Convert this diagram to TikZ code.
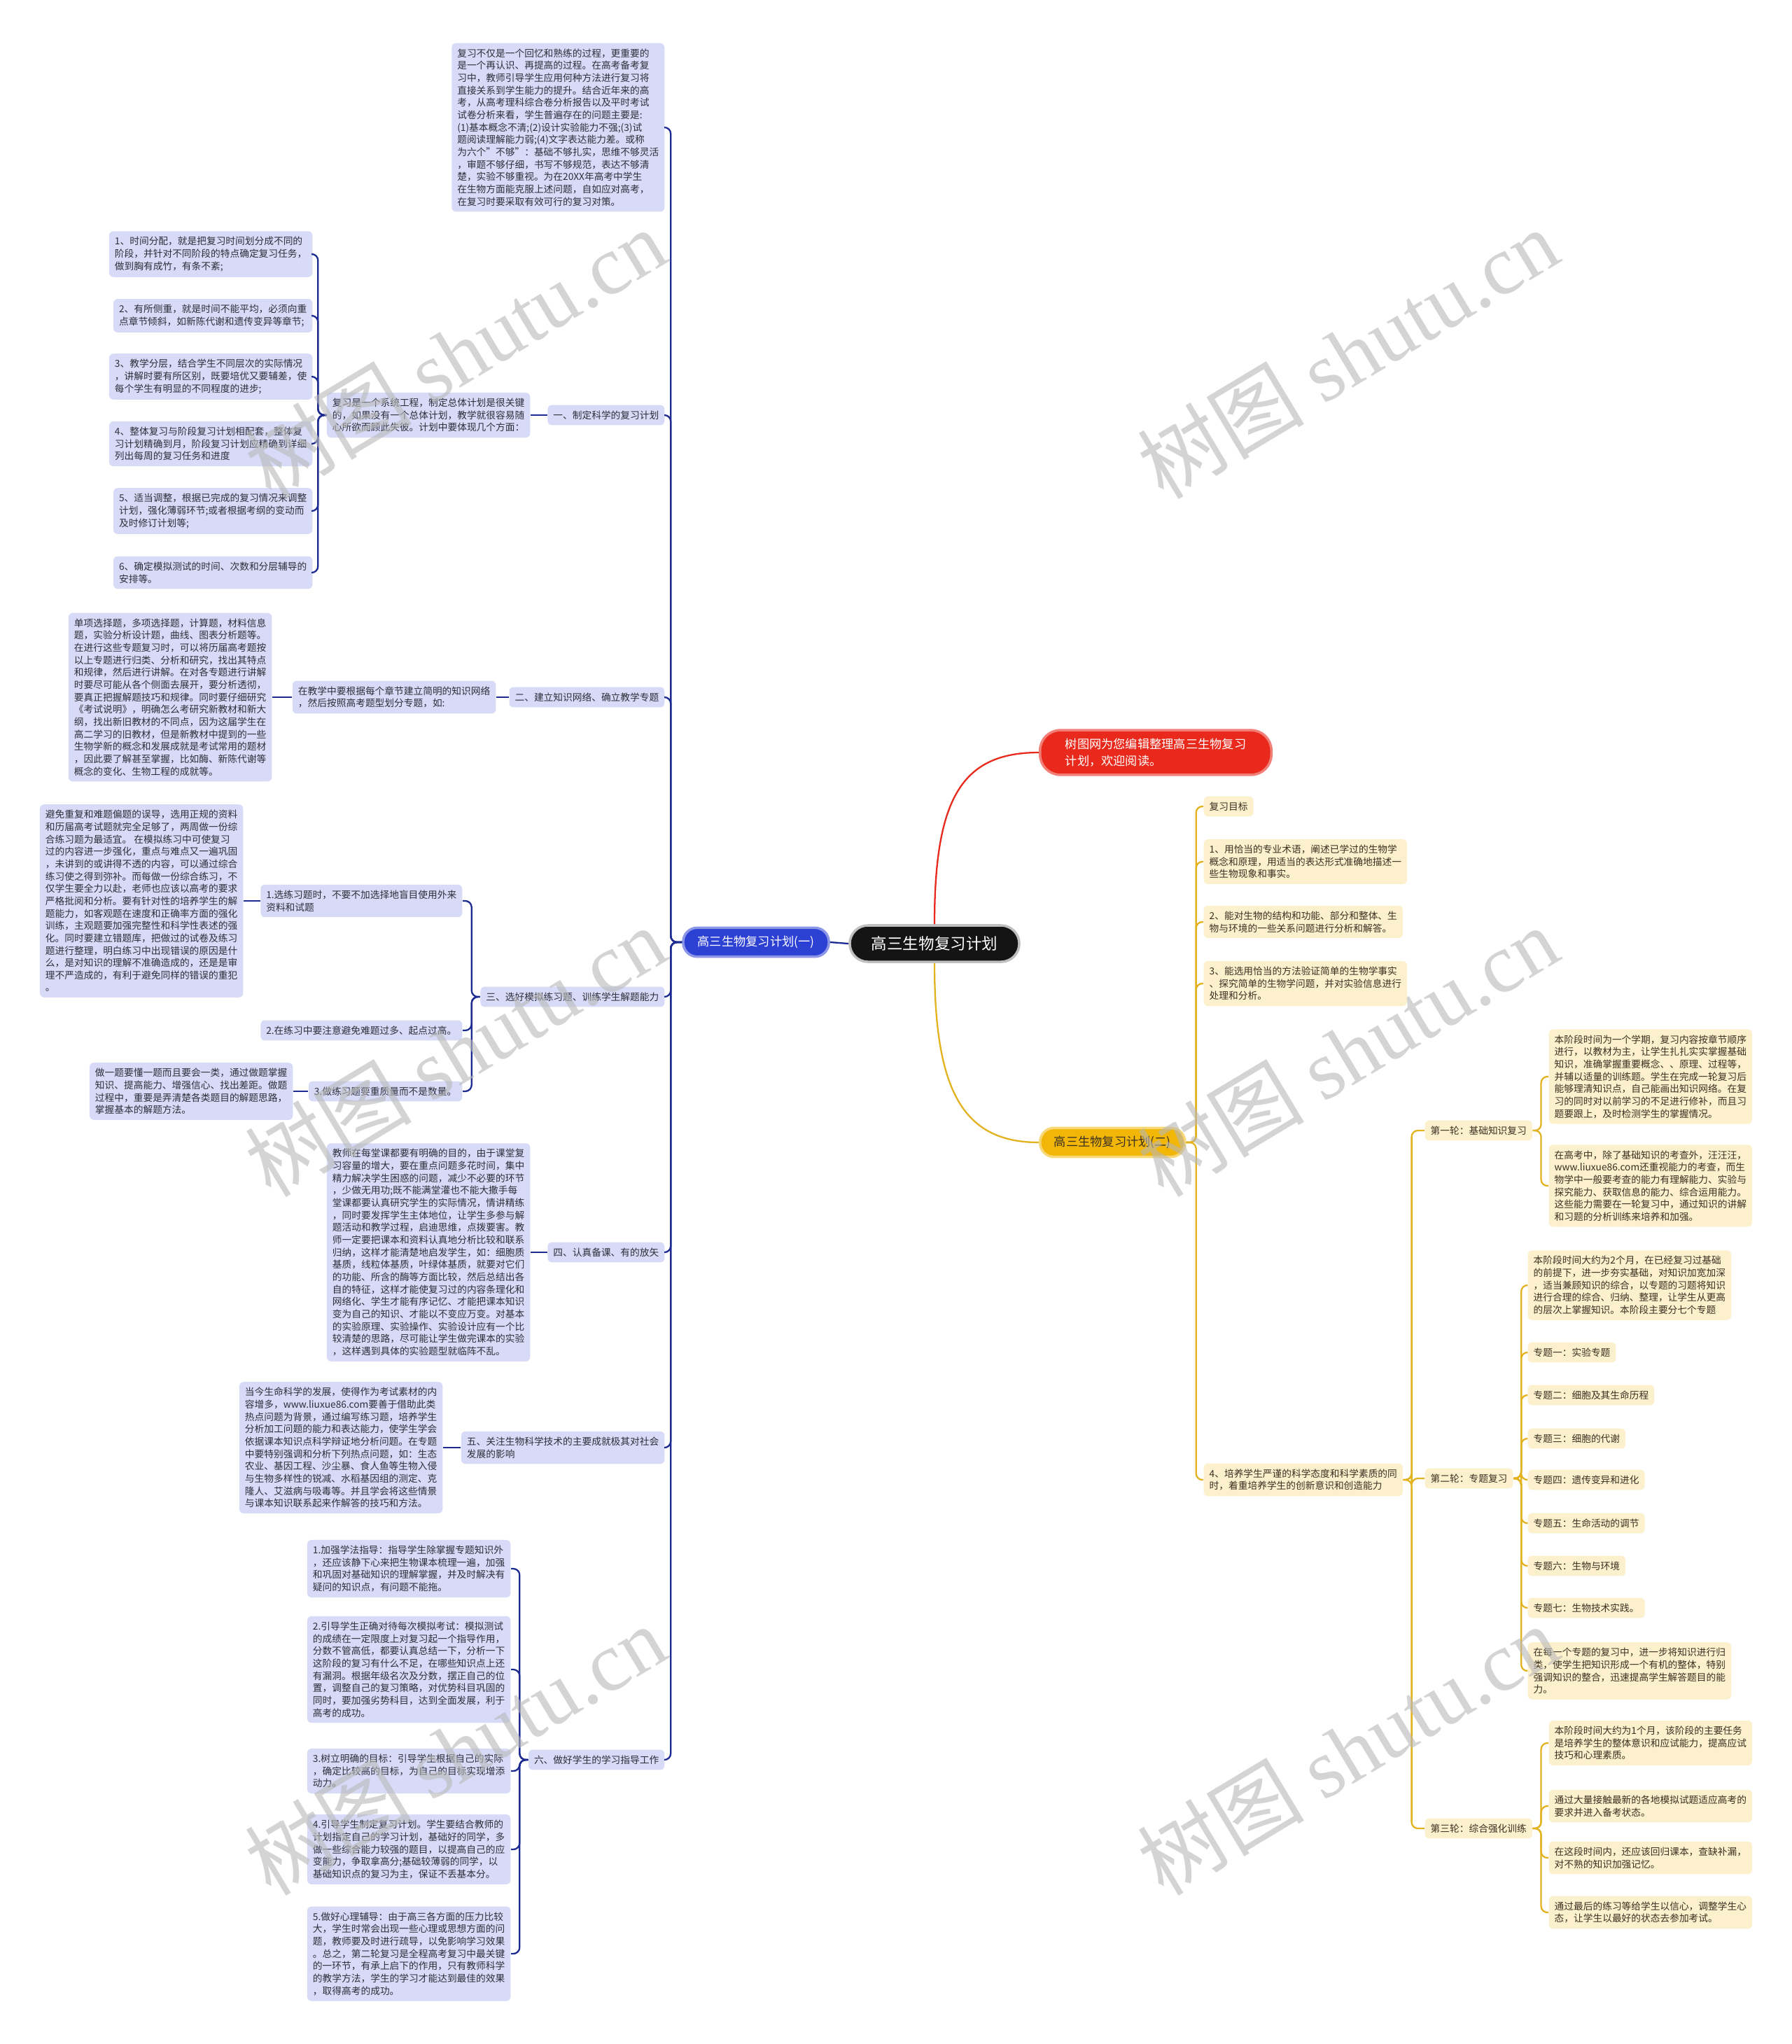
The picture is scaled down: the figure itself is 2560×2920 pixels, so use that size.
\documentclass[tikz,border=0pt]{standalone}
\usepackage{fontspec}
\setmainfont{Noto Sans CJK SC}
\newfontfamily\wmfont{Liberation Serif}

\definecolor{bfill}{HTML}{D7DBF7}
\definecolor{bink}{HTML}{2E2E3A}
\definecolor{bedge}{HTML}{1C2B91}
\definecolor{bmain}{HTML}{2C40D4}
\definecolor{yfill}{HTML}{FCF0CD}
\definecolor{yink}{HTML}{3A3122}
\definecolor{yedge}{HTML}{E3B21F}
\definecolor{ymain}{HTML}{F2B606}
\definecolor{introred}{HTML}{E8291C}
\definecolor{wmgray}{HTML}{B8B8B8}

\newcommand{\leaffont}{\fontsize{3.9pt}{5.02pt}\selectfont}
\newcommand{\midfont}{\fontsize{4.9pt}{6.8pt}\selectfont}
\newcommand{\rootfont}{\fontsize{6.4pt}{7.5pt}\selectfont}
\newcommand{\wmsize}{\fontsize{34pt}{36pt}\selectfont}

\begin{document}
\begin{tikzpicture}[x=0.01cm, y=-0.01cm,
    bbox/.style={fill=bfill, text=bink, rounded corners=0.06cm, inner xsep=0.08cm, inner ysep=0.08cm, align=left, font=\leaffont},
    ybox/.style={bbox, fill=yfill, text=yink},
    bline/.style={draw=bedge, line width=0.65pt, rounded corners=0.09cm},
    yline/.style={draw=yedge, line width=0.65pt, rounded corners=0.09cm},
    wmark/.style={text=wmgray, opacity=0.6, rotate=31, font=\wmsize}]

    % page
    \fill[white] (0,0) rectangle (2560,2920);
    \useasboundingbox (0,0) rectangle (2560,2920);

    % root and main branches
    \node[fill=black!92, text=white, draw=gray!50, line width=1pt, rounded corners=0.26cm, minimum width=2.42cm, minimum height=0.52cm, font=\rootfont] (root) at (1335,1348) {高三生物复习计划};
    \node[fill=bmain, text=white, draw=bmain!55, line width=1pt, rounded corners=0.2cm, minimum width=2.08cm, minimum height=0.41cm, font=\midfont] (partOne) at (1080,1346) {高三生物复习计划(一)};
    \node[fill=introred, text=white, draw=introred!60, line width=1pt, rounded corners=0.29cm, minimum height=0.59cm, inner xsep=0.36cm, align=left, font=\midfont, anchor=west] (intro) at (1484,1075) {树图网为您编辑整理高三生物复习\\计划，欢迎阅读。};
    \node[fill=ymain, text=yink, draw=ymain!55, line width=1pt, rounded corners=0.2cm, minimum width=2.07cm, minimum height=0.41cm, font=\midfont, anchor=west] (partTwo) at (1484,1632) {高三生物复习计划(二)};

    % left: intro text
    \node[bbox, anchor=east] (review) at (950,182) {复习不仅是一个回忆和熟练的过程，更重要的\\是一个再认识、再提高的过程。在高考备考复\\习中，教师引导学生应用何种方法进行复习将\\直接关系到学生能力的提升。结合近年来的高\\考，从高考理科综合卷分析报告以及平时考试\\试卷分析来看，学生普遍存在的问题主要是:\\(1)基本概念不清;(2)设计实验能力不强;(3)试\\题阅读理解能力弱;(4)文字表达能力差。或称\\为六个"不够"：基础不够扎实，思维不够灵活\\，审题不够仔细，书写不够规范，表达不够清\\楚，实验不够重视。为在20XX年高考中学生\\在生物方面能克服上述问题，自如应对高考，\\在复习时要采取有效可行的复习对策。};

    % left: section 1
    \node[bbox, anchor=east] (plan) at (950,593) {一、制定科学的复习计划};
    \node[bbox, anchor=east] (planIntro) at (758,593) {复习是一个系统工程，制定总体计划是很关键\\的，如果没有一个总体计划，教学就很容易随\\心所欲而顾此失彼。计划中要体现几个方面：};
    \node[bbox, anchor=east] (p1) at (447,363) {1、时间分配，就是把复习时间划分成不同的\\阶段，并针对不同阶段的特点确定复习任务，\\做到胸有成竹，有条不紊;};
    \node[bbox, anchor=east] (p2) at (447,451) {2、有所侧重，就是时间不能平均，必须向重\\点章节倾斜，如新陈代谢和遗传变异等章节;};
    \node[bbox, anchor=east] (p3) at (447,538) {3、教学分层，结合学生不同层次的实际情况\\，讲解时要有所区别，既要培优又要辅差，使\\每个学生有明显的不同程度的进步;};
    \node[bbox, anchor=east] (p4) at (447,634) {4、整体复习与阶段复习计划相配套，整体复\\习计划精确到月，阶段复习计划应精确到详细\\列出每周的复习任务和进度};
    \node[bbox, anchor=east] (p5) at (447,730) {5、适当调整，根据已完成的复习情况来调整\\计划，强化薄弱环节;或者根据考纲的变动而\\及时修订计划等;};
    \node[bbox, anchor=east] (p6) at (447,818) {6、确定模拟测试的时间、次数和分层辅导的\\安排等。};

    % left: section 2
    \node[bbox, anchor=east] (net) at (950,996) {二、建立知识网络、确立教学专题};
    \node[bbox, anchor=east] (netIntro) at (709,996) {在教学中要根据每个章节建立简明的知识网络\\，然后按照高考题型划分专题，如:};
    \node[bbox, anchor=east] (netTypes) at (389,996) {单项选择题，多项选择题，计算题，材料信息\\题，实验分析设计题，曲线、图表分析题等。\\在进行这些专题复习时，可以将历届高考题按\\以上专题进行归类、分析和研究，找出其特点\\和规律，然后进行讲解。在对各专题进行讲解\\时要尽可能从各个侧面去展开，要分析透彻，\\要真正把握解题技巧和规律。同时要仔细研究\\《考试说明》，明确怎么考研究新教材和新大\\纲，找出新旧教材的不同点，因为这届学生在\\高二学习的旧教材，但是新教材中提到的一些\\生物学新的概念和发展成就是考试常用的题材\\，因此要了解甚至掌握，比如酶、新陈代谢等\\概念的变化、生物工程的成就等。};

    % left: section 3
    \node[bbox, anchor=east] (drill) at (950,1424) {三、选好模拟练习题、训练学生解题能力};
    \node[bbox, anchor=east] (d1) at (661,1287) {1.选练习题时，不要不加选择地盲目使用外来\\资料和试题};
    \node[bbox, anchor=east] (d1x) at (348,1287) {避免重复和难题偏题的误导，选用正规的资料\\和历届高考试题就完全足够了，两周做一份综\\合练习题为最适宜。 在模拟练习中可使复习\\过的内容进一步强化，重点与难点又一遍巩固\\，未讲到的或讲得不透的内容，可以通过综合\\练习使之得到弥补。而每做一份综合练习，不\\仅学生要全力以赴，老师也应该以高考的要求\\严格批阅和分析。要有针对性的培养学生的解\\题能力，如客观题在速度和正确率方面的强化\\训练，主观题要加强完整性和科学性表述的强\\化。同时要建立错题库，把做过的试卷及练习\\题进行整理，明白练习中出现错误的原因是什\\么，是对知识的理解不准确造成的，还是是审\\理不严造成的，有利于避免同样的错误的重犯\\。};
    \node[bbox, anchor=east] (d2) at (661,1472) {2.在练习中要注意避免难题过多、起点过高。};
    \node[bbox, anchor=east] (d3) at (661,1559) {3.做练习题要重质量而不是数量。};
    \node[bbox, anchor=east] (d3x) at (419,1559) {做一题要懂一题而且要会一类，通过做题掌握\\知识、提高能力、增强信心、找出差距。做题\\过程中，重要是弄清楚各类题目的解题思路，\\掌握基本的解题方法。};

    % left: section 4
    \node[bbox, anchor=east] (prep) at (950,1789) {四、认真备课、有的放矢};
    \node[bbox, anchor=east] (prepText) at (758,1789) {教师在每堂课都要有明确的目的，由于课堂复\\习容量的增大，要在重点问题多花时间，集中\\精力解决学生困惑的问题，减少不必要的环节\\，少做无用功;既不能满堂灌也不能大撒手每\\堂课都要认真研究学生的实际情况，情讲精练\\，同时要发挥学生主体地位，让学生多参与解\\题活动和教学过程，启迪思维，点拨要害。教\\师一定要把课本和资料认真地分析比较和联系\\归纳，这样才能清楚地启发学生，如：细胞质\\基质，线粒体基质，叶绿体基质，就要对它们\\的功能、所含的酶等方面比较，然后总结出各\\自的特征，这样才能使复习过的内容条理化和\\网络化、学生才能有序记忆、才能把课本知识\\变为自己的知识、才能以不变应万变。对基本\\的实验原理、实验操作、实验设计应有一个比\\较清楚的思路，尽可能让学生做完课本的实验\\，这样遇到具体的实验题型就临阵不乱。};

    % left: section 5
    \node[bbox, anchor=east] (tech) at (950,2068) {五、关注生物科学技术的主要成就极其对社会\\发展的影响};
    \node[bbox, anchor=east] (techText) at (633,2068) {当今生命科学的发展，使得作为考试素材的内\\容增多，www.liuxue86.com要善于借助此类\\热点问题为背景，通过编写练习题，培养学生\\分析加工问题的能力和表达能力，使学生学会\\依据课本知识点科学辩证地分析问题。在专题\\中要特别强调和分析下列热点问题，如：生态\\农业、基因工程、沙尘暴、食人鱼等生物入侵\\与生物多样性的锐减、水稻基因组的测定、克\\隆人、艾滋病与吸毒等。并且学会将这些情景\\与课本知识联系起来作解答的技巧和方法。};

    % left: section 6
    \node[bbox, anchor=east] (guide) at (950,2514) {六、做好学生的学习指导工作};
    \node[bbox, anchor=east] (g1) at (730,2241) {1.加强学法指导：指导学生除掌握专题知识外\\，还应该静下心来把生物课本梳理一遍，加强\\和巩固对基础知识的理解掌握，并及时解决有\\疑问的知识点，有问题不能拖。};
    \node[bbox, anchor=east] (g2) at (730,2385) {2.引导学生正确对待每次模拟考试：模拟测试\\的成绩在一定限度上对复习起一个指导作用，\\分数不管高低，都要认真总结一下，分析一下\\这阶段的复习有什么不足，在哪些知识点上还\\有漏洞。根据年级名次及分数，摆正自己的位\\置，调整自己的复习策略，对优势科目巩固的\\同时，要加强劣势科目，达到全面发展，利于\\高考的成功。};
    \node[bbox, anchor=east] (g3) at (730,2530) {3.树立明确的目标：引导学生根据自己的实际\\，确定比较高的目标，为自己的目标实现增添\\动力。};
    \node[bbox, anchor=east] (g4) at (730,2642) {4.引导学生制定复习计划。学生要结合教师的\\计划指定自己的学习计划，基础好的同学，多\\做一些综合能力较强的题目，以提高自己的应\\变能力，争取拿高分;基础较薄弱的同学，以\\基础知识点的复习为主，保证不丢基本分。};
    \node[bbox, anchor=east] (g5) at (730,2791) {5.做好心理辅导：由于高三各方面的压力比较\\大，学生时常会出现一些心理或思想方面的问\\题，教师要及时进行疏导，以免影响学习效果\\。总之，第二轮复习是全程高考复习中最关键\\的一环节，有承上启下的作用，只有教师科学\\的教学方法，学生的学习才能达到最佳的效果\\，取得高考的成功。};

    % right: goals
    \node[ybox, anchor=west] (goal) at (1719,1152) {复习目标};
    \node[ybox, anchor=west] (aim1) at (1719,1231) {1、用恰当的专业术语，阐述已学过的生物学\\概念和原理，用适当的表达形式准确地描述一\\些生物现象和事实。};
    \node[ybox, anchor=west] (aim2) at (1719,1317) {2、能对生物的结构和功能、部分和整体、生\\物与环境的一些关系问题进行分析和解答。};
    \node[ybox, anchor=west] (aim3) at (1719,1405) {3、能选用恰当的方法验证简单的生物学事实\\、探究简单的生物学问题，并对实验信息进行\\处理和分析。};
    \node[ybox, anchor=west] (aim4) at (1719,2114) {4、培养学生严谨的科学态度和科学素质的同\\时，着重培养学生的创新意识和创造能力};

    % right: round 1
    \node[ybox, anchor=west] (roundA) at (2035,1615) {第一轮：基础知识复习};
    \node[ybox, anchor=west] (a1) at (2212,1538) {本阶段时间为一个学期，复习内容按章节顺序\\进行，以教材为主，让学生扎扎实实掌握基础\\知识，准确掌握重要概念、、原理、过程等，\\并辅以适量的训练题。学生在完成一轮复习后\\能够理清知识点，自己能画出知识网络。在复\\习的同时对以前学习的不足进行修补，而且习\\题要跟上，及时检测学生的掌握情况。};
    \node[ybox, anchor=west] (a2) at (2212,1694) {在高考中，除了基础知识的考查外，汪汪汪，\\www.liuxue86.com还重视能力的考查，而生\\物学中一般要考查的能力有理解能力、实验与\\探究能力、获取信息的能力、综合运用能力。\\这些能力需要在一轮复习中，通过知识的讲解\\和习题的分析训练来培养和加强。};

    % right: round 2
    \node[ybox, anchor=west] (roundB) at (2035,2112) {第二轮：专题复习};
    \node[ybox, anchor=west] (b0) at (2182,1836) {本阶段时间大约为2个月，在已经复习过基础\\的前提下，进一步夯实基础，对知识加宽加深\\，适当兼顾知识的综合，以专题的习题将知识\\进行合理的综合、归纳、整理，让学生从更高\\的层次上掌握知识。本阶段主要分七个专题};
    \node[ybox, anchor=west] (t1) at (2182,1932) {专题一：实验专题};
    \node[ybox, anchor=west] (t2) at (2182,1993) {专题二：细胞及其生命历程};
    \node[ybox, anchor=west] (t3) at (2182,2055) {专题三：细胞的代谢};
    \node[ybox, anchor=west] (t4) at (2182,2114) {专题四：遗传变异和进化};
    \node[ybox, anchor=west] (t5) at (2182,2176) {专题五：生命活动的调节};
    \node[ybox, anchor=west] (t6) at (2182,2237) {专题六：生物与环境};
    \node[ybox, anchor=west] (t7) at (2182,2297) {专题七：生物技术实践。};
    \node[ybox, anchor=west] (b8) at (2182,2387) {在每一个专题的复习中，进一步将知识进行归\\类，使学生把知识形成一个有机的整体，特别\\强调知识的整合，迅速提高学生解答题目的能\\力。};

    % right: round 3
    \node[ybox, anchor=west] (roundC) at (2035,2612) {第三轮：综合强化训练};
    \node[ybox, anchor=west] (c1) at (2212,2490) {本阶段时间大约为1个月，该阶段的主要任务\\是培养学生的整体意识和应试能力，提高应试\\技巧和心理素质。};
    \node[ybox, anchor=west] (c2) at (2212,2580) {通过大量接触最新的各地模拟试题适应高考的\\要求并进入备考状态。};
    \node[ybox, anchor=west] (c3) at (2212,2654) {在这段时间内，还应该回归课本，查缺补漏，\\对不熟的知识加强记忆。};
    \node[ybox, anchor=west] (c4) at (2212,2732) {通过最后的练习等给学生以信心，调整学生心\\态，让学生以最好的状态去参加考试。};

    % connectors: blue side
    \draw[bline] (root.west) -- (partOne.east);
    \foreach \n in {review,plan,net,drill,prep,tech,guide}
        \draw[bline] (partOne.west) -- ++(-16,0) |- (\n.east);
    \draw[bline] (plan.west) -- (planIntro.east);
    \foreach \n in {p1,p2,p3,p4,p5,p6}
        \draw[bline] (planIntro.west) -- ++(-12,0) |- (\n.east);
    \draw[bline] (net.west) -- (netIntro.east);
    \draw[bline] (netIntro.west) -- (netTypes.east);
    \foreach \n in {d1,d2,d3}
        \draw[bline] (drill.west) -- ++(-12,0) |- (\n.east);
    \draw[bline] (d1.west) -- (d1x.east);
    \draw[bline] (d3.west) -- (d3x.east);
    \draw[bline] (prep.west) -- (prepText.east);
    \draw[bline] (tech.west) -- (techText.east);
    \foreach \n in {g1,g2,g3,g4,g5}
        \draw[bline] (guide.west) -- ++(-12,0) |- (\n.east);

    % connectors: red and yellow side
    \draw[draw=introred, line width=0.65pt] (root.north) .. controls +(0,-180) and +(-110,0) .. (intro.west);
    \draw[yline] (root.south) .. controls +(0,180) and +(-110,0) .. (partTwo.west);
    \foreach \n in {goal,aim1,aim2,aim3,aim4}
        \draw[yline] (partTwo.east) -- ++(14,0) |- (\n.west);
    \foreach \n in {roundA,roundB,roundC}
        \draw[yline] (aim4.east) -- ++(12,0) |- (\n.west);
    \foreach \n in {a1,a2}
        \draw[yline] (roundA.east) -- ++(12,0) |- (\n.west);
    \foreach \n in {b0,t1,t2,t3,t4,t5,t6,t7,b8}
        \draw[yline] (roundB.east) -- ++(11,0) |- (\n.west);
    \foreach \n in {c1,c2,c3,c4}
        \draw[yline] (roundC.east) -- ++(12,0) |- (\n.west);

    % watermarks
    \node[wmark] (wm1) at (650,505) {树图 {\wmfont shutu.cn}};
    \node[wmark] (wm2) at (1925,505) {树图 {\wmfont shutu.cn}};
    \node[wmark] (wm3) at (650,1502) {树图 {\wmfont shutu.cn}};
    \node[wmark] (wm4) at (1925,1502) {树图 {\wmfont shutu.cn}};
    \node[wmark] (wm5) at (650,2500) {树图 {\wmfont shutu.cn}};
    \node[wmark] (wm6) at (1925,2500) {树图 {\wmfont shutu.cn}};
\end{tikzpicture}
\end{document}
